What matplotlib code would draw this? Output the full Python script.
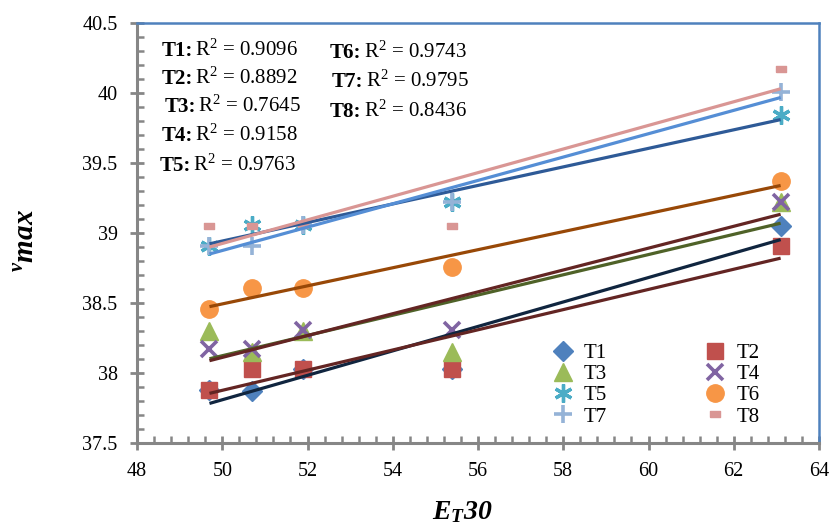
import numpy as np
import matplotlib
matplotlib.use("Agg")
import matplotlib.pyplot as plt
from matplotlib.lines import Line2D
from matplotlib.ticker import MultipleLocator

plt.rcParams['font.family'] = ['Liberation Serif', 'DejaVu Serif']
plt.rcParams['mathtext.fontset'] = 'custom'
plt.rcParams['mathtext.rm'] = 'Liberation Serif'
plt.rcParams['mathtext.it'] = 'Liberation Serif:italic:bold'
plt.rcParams['mathtext.bf'] = 'Liberation Serif:bold'

# ---- data ----
et30 = [49.7, 50.7, 51.9, 55.4, 63.1]
series_names = ['T1', 'T2', 'T3', 'T4', 'T5', 'T6', 'T7', 'T8']
T1 = [37.88, 37.87, 38.03, 38.03, 39.05]
T2 = [37.88, 38.03, 38.03, 38.03, 38.91]
T3 = [38.30, 38.15, 38.30, 38.15, 39.22]
T4 = [38.17, 38.17, 38.31, 38.31, 39.22]
T5 = [38.91, 39.06, 39.06, 39.22, 39.84]
T6 = [38.46, 38.61, 38.61, 38.76, 39.37]
T7 = [38.91, 38.91, 39.06, 39.22, 40.01]
T8 = [39.05, 39.05, 39.06, 39.05, 40.17]
r2_labels = ['0.9096', '0.8892', '0.7645', '0.9158', '0.9763', '0.9743', '0.9795', '0.8436']
x_ticks = [48, 50, 52, 54, 56, 58, 60, 62, 64]
y_ticks = [37.5, 38, 38.5, 39, 39.5, 40, 40.5]

series = [T1, T2, T3, T4, T5, T6, T7, T8]

dash = [(-1, -0.5), (1, -0.5), (1, 0.5), (-1, 0.5), (-1, -0.5)]
marker_styles = [
    dict(marker='D', ms=10, color='#4F81BD', mec='#4F81BD'),
    dict(marker='s', ms=12, color='#C0504D', mec='#C0504D'),
    dict(marker='^', ms=13, color='#9BBB59', mec='#9BBB59'),
    dict(marker='x', ms=11, color='#8064A2', mec='#8064A2', mew=2.6),
    dict(marker=(6, 2, 0), ms=13, color='#4BACC6', mec='#4BACC6', mew=2.4),
    dict(marker='o', ms=12.5, color='#F79646', mec='#F79646'),
    dict(marker='+', ms=13, color='#95B3D7', mec='#95B3D7', mew=2.6),
    dict(marker=dash, ms=7.5, color='#D99694', mec='#D99694'),
]
line_colors = ['#10253F', '#632523', '#4F6228', '#632523', '#2E5A97', '#984807', '#558ED5', '#D99694']

W, H = 832, 526
fig = plt.figure(figsize=(W / 100, H / 100), dpi=100)
L, R, T, B = 137, 819, 23, 443
ax = fig.add_axes([L / W, 1 - B / H, (R - L) / W, (B - T) / H])

x = np.array(et30)
for ys, ms in zip(series, marker_styles):
    ax.plot(x, ys, linestyle='none', zorder=3, **ms)
for ys, lc in zip(series, line_colors):
    k, b = np.polyfit(x, np.array(ys), 1)
    xx = np.array([x.min(), x.max()])
    ax.plot(xx, k * xx + b, color=lc, lw=2.3, zorder=4, solid_capstyle='butt')

ax.set_xlim(48, 64)
ax.set_ylim(37.5, 40.5)
ax.set_xticks(x_ticks)
ax.set_yticks(y_ticks)
ax.set_xticklabels([str(v) for v in x_ticks])
ax.set_yticklabels([f'{v:g}' for v in y_ticks])
ax.xaxis.set_minor_locator(MultipleLocator(0.4))
ax.yaxis.set_minor_locator(MultipleLocator(0.1))

for s in ['left', 'bottom']:
    ax.spines[s].set_color('#868686')
    ax.spines[s].set_linewidth(2.2)
for s in ['top', 'right']:
    ax.spines[s].set_color('#4F81BD')
    ax.spines[s].set_linewidth(1.8)

ax.tick_params(which='major', direction='inout', length=10, width=2, color='#868686',
               labelsize=14.5, pad=9)
ax.tick_params(which='minor', direction='in', length=5, width=1.8, color='#868686')
ax.tick_params(top=False, right=False, which='both')

# axis labels
fig.text(462 / W, 1 - 512 / H, r'$\mathit{E_{T}}$30', ha='center', va='center',
         fontsize=20, fontweight='bold', style='italic')
fig.text(26 / W, 1 - 240 / H, r'${}^{v}$max', ha='center', va='center', fontsize=21,
         fontweight='bold', style='italic', rotation=90)

# R^2 annotations
renderer = fig.canvas.get_renderer()
ann_pos = [(162, 56), (162, 84), (165, 112), (162, 141), (160, 171),
           (330, 58), (332, 87), (330, 117)]
for name, r2, (px, py) in zip(series_names, r2_labels, ann_pos):
    t = fig.text(px / W, 1 - py / H, name + ':', ha='left', va='baseline',
                 fontsize=15, fontweight='bold')
    w = t.get_window_extent(renderer).width
    fig.text((px + w + 2) / W, 1 - py / H, r'R$^{2}$ = ' + r2, ha='left',
             va='baseline', fontsize=15)

# legend (row-wise order: T1 T2 / T3 T4 / ...)
order = [0, 2, 4, 6, 1, 3, 5, 7]
handles = [Line2D([], [], linestyle='none', **marker_styles[i]) for i in order]
labels = [series_names[i] for i in order]
leg = ax.legend(handles, labels, ncol=2, frameon=False, fontsize=15,
                loc='upper left', bbox_to_anchor=((540 - L) / (R - L), (B - 333) / (B - T)),
                handletextpad=0.4, columnspacing=4.6, labelspacing=0.08,
                handlelength=1.2, borderpad=0)

fig.savefig('out.png', dpi=100)
